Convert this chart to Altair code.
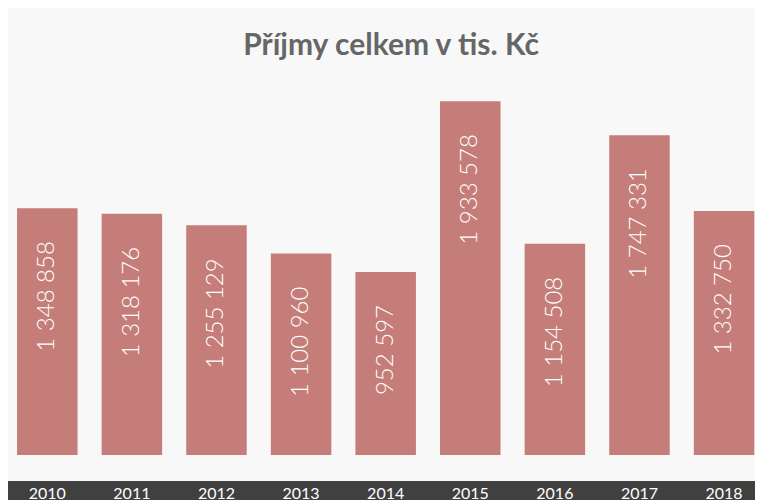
import altair as alt
import pandas as pd

years = ["2010", "2011", "2012", "2013", "2014", "2015", "2016", "2017", "2018"]
# bar heights as drawn in the picture (the 2014 bar is drawn near 1 000 000)
bar_values = [1348858, 1318176, 1255129, 1100960, 1000000, 1933578, 1154508, 1747331, 1332750]
bar_labels = ["1 348 858", "1 318 176", "1 255 129", "1 100 960", "952 597",
              "1 933 578", "1 154 508", "1 747 331", "1 332 750"]
title_text = "Příjmy celkem v tis. Kč"

df = pd.DataFrame({"year": years, "value": bar_values, "label": bar_labels})

W, H = 747, 366
BAR = "#c47d78"

x = alt.X("year:N", sort=years, axis=None,
          scale=alt.Scale(paddingInner=0.2849, paddingOuter=0.0574, align=0.93, round=False))
y = alt.Y("value:Q", axis=None, scale=alt.Scale(domain=[0, 2000000], nice=False, zero=True))

base = alt.Chart(df)

bars = base.mark_bar(color=BAR).encode(x=x, y=y)

labels = base.mark_text(
    angle=270, align="right", baseline="middle", dx=-33,
    color="white", font="Lato", fontWeight=300, fontSize=24,
).encode(x=x, y=y, text="label:N")

band = alt.Chart(pd.DataFrame({"a": [0]})).mark_rect(color="#404040").encode(
    x=alt.value(0), x2=alt.value(W), y=alt.value(H + 26), y2=alt.value(H + 53)
)

year_labels = base.mark_text(
    baseline="middle", align="center", color="white", font="Lato", fontSize=16
).encode(x=x, y=alt.value(H + 38.5), text="year:N")

title = alt.Chart(pd.DataFrame({"t": [title_text]})).mark_text(
    font="Lato", fontWeight="bold", fontSize=30, color="#666666",
    align="center", baseline="alphabetic",
).encode(x=alt.value(383), y=alt.value(-34), text="t:N")

chart = alt.layer(bars, labels, band, year_labels, title).properties(
    width=W, height=H,
    autosize=alt.AutoSizeParams(type="none"),
    padding={"left": 0, "top": 81, "right": 0, "bottom": 53},
    background="#f8f8f8",
).configure_view(stroke=None)

chart.save("out.html", embed_options={"renderer": "svg", "actions": False})
